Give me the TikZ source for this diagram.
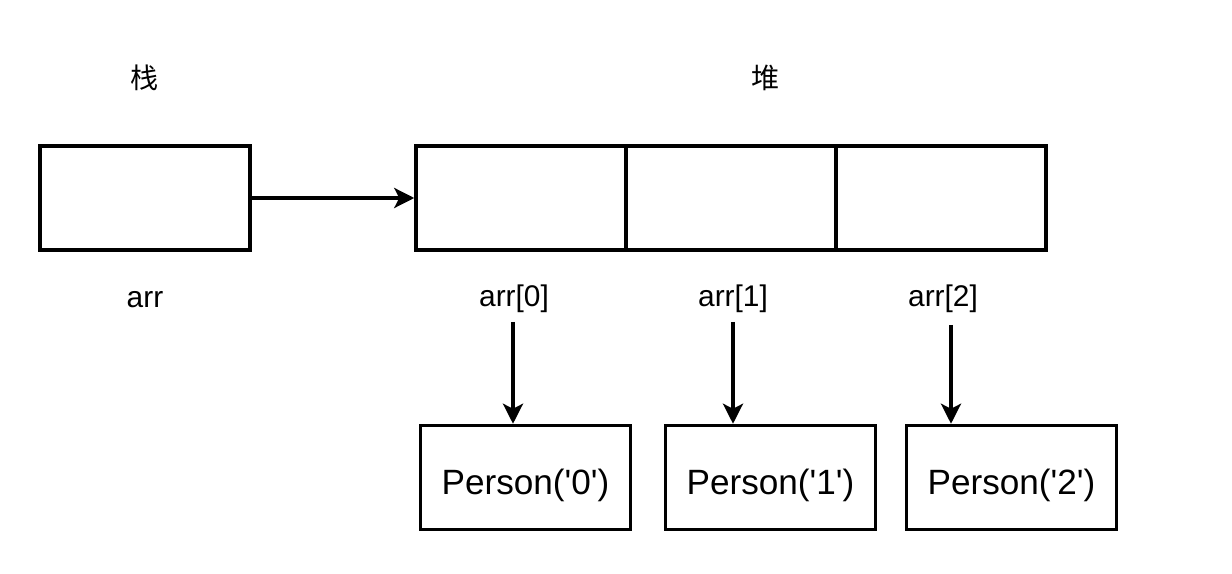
\documentclass[tikz,border=0pt]{standalone}
\usepackage{fontspec}
\setmainfont{Liberation Sans}
\newfontfamily\cjk{Noto Sans CJK SC}
\usetikzlibrary{arrows.meta}

\begin{document}
\begin{tikzpicture}[x=0.02cm, y=-0.02cm,
	caixa/.style={draw, line width=2pt, minimum width=4.2cm, minimum height=2.08cm, inner sep=0pt},
	seta/.style={-{Stealth[length=0.4cm, width=0.4cm, inset=0.1cm]}, line width=2pt},
	rotulo/.style={font=\fontsize{17}{20}\selectfont},
	objeto/.style={caixa, font=\fontsize{20}{24}\selectfont}]
	\useasboundingbox (0,0) rectangle (1232,574); %Margens da figura
		%Titulos
	\node[font=\cjk\fontsize{16}{20}\selectfont] (titulopilha) at (145,78) {栈}; %Pilha
	\node[font=\cjk\fontsize{16}{20}\selectfont] (tituloheap) at (766,78) {堆}; %Heap
		%Caixa da pilha e celulas do heap
	\node[caixa] (pilha) at (145,198) {}; %Variavel arr
	\node[caixa] (celula0) at (521,198) {}; %Primeira celula
	\node[caixa] (celula1) at (731,198) {}; %Segunda celula
	\node[caixa] (celula2) at (941,198) {}; %Terceira celula
		%Rotulos
	\node[rotulo] (rotulopilha) at (145,300) {arr};
	\node[rotulo] (rotulo0) at (514,299) {arr[0]};
	\node[rotulo] (rotulo1) at (733,299) {arr[1]};
	\node[rotulo] (rotulo2) at (943,299) {arr[2]};
		%Objetos Person
	\node[objeto] (pessoa0) at (525.5,477.5) {\raisebox{-9.5pt}[0pt][0pt]{Person(\textquotesingle0\textquotesingle)}};
	\node[objeto] (pessoa1) at (770.5,477.5) {\raisebox{-9.5pt}[0pt][0pt]{Person(\textquotesingle1\textquotesingle)}};
	\node[objeto] (pessoa2) at (1011.5,477.5) {\raisebox{-9.5pt}[0pt][0pt]{Person(\textquotesingle2\textquotesingle)}};
		%Inicio das setas
	\coordinate (inicio0) at (513,322);
	\coordinate (inicio1) at (733,322);
	\coordinate (inicio2) at (951,325);
		%Setas
	\draw[seta] (pilha.east) -- (celula0.west); %Referencia da pilha para o heap
	\draw[seta] (inicio0) -- (inicio0 |- pessoa0.north); %arr[0]
	\draw[seta] (inicio1) -- (inicio1 |- pessoa1.north); %arr[1]
	\draw[seta] (inicio2) -- (inicio2 |- pessoa2.north); %arr[2]
\end{tikzpicture}
\end{document}
